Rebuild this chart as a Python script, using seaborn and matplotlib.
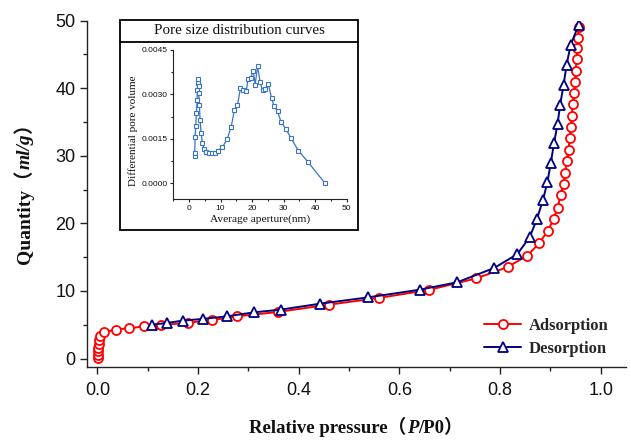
import matplotlib
matplotlib.use('Agg')
import matplotlib.pyplot as plt
import seaborn as sns
import pandas as pd
from matplotlib.patches import Rectangle
from matplotlib.lines import Line2D
from matplotlib.ticker import MultipleLocator

# ---------------- data ----------------
ads_p = [0.0005, 0.001, 0.0015, 0.002, 0.003, 0.004, 0.0055, 0.014, 0.037, 0.063,
         0.092, 0.127, 0.179, 0.228, 0.278, 0.359, 0.460, 0.559, 0.658, 0.752,
         0.815, 0.854, 0.878, 0.895, 0.906, 0.914, 0.920, 0.926, 0.929, 0.932,
         0.936, 0.938, 0.940, 0.942, 0.944, 0.947, 0.949, 0.950, 0.952, 0.953,
         0.955, 0.956]
ads_q = [0.1, 0.6, 1.1, 1.6, 2.2, 2.8, 3.3, 3.9, 4.3, 4.5,
         4.75, 4.95, 5.3, 5.7, 6.25, 6.9, 7.98, 8.97, 10.15, 11.85,
         13.55, 15.25, 17.1, 18.95, 20.6, 22.35, 24.15, 25.85, 27.5, 29.2,
         30.9, 32.6, 34.2, 35.9, 37.6, 39.3, 41.0, 42.6, 44.3, 45.9,
         47.5, 49.1]

des_p = [0.109, 0.138, 0.170, 0.210, 0.257, 0.312, 0.364, 0.443, 0.538, 0.641,
         0.715, 0.788, 0.834, 0.859, 0.873, 0.885, 0.894, 0.9006, 0.907, 0.914,
         0.919, 0.926, 0.932, 0.940, 0.956]
des_q = [5.02, 5.27, 5.62, 5.87, 6.25, 6.85, 7.24, 8.13, 9.06, 10.2,
         11.3, 13.4, 15.45, 18.0, 20.65, 23.45, 26.15, 28.95, 31.9, 34.7,
         37.5, 40.5, 43.5, 46.4, 49.4]

psd_d = [1.81, 1.81, 1.92, 2.13, 2.34, 2.55, 2.66, 2.76, 2.87, 3.08,
         3.08, 3.29, 3.50, 3.82, 4.25, 4.78, 5.52, 6.36, 7.21, 8.27,
         9.22, 10.6, 12.08, 13.35, 14.42, 15.37, 16.32, 17.17, 18.12, 18.76,
         19.6, 20.35, 20.98, 21.73, 22.57, 23.31, 24.16, 25.11, 26.17, 26.91,
         28.08, 29.24, 30.73, 32.42, 34.65, 37.61, 43.12]
psd_v = [0.000935, 0.001036, 0.001544, 0.001916, 0.002367, 0.002818, 0.003156, 0.003382, 0.003517, 0.003269,
         0.003044, 0.002649, 0.002141, 0.001690, 0.001352, 0.001149, 0.001070, 0.001014, 0.001014, 0.001014,
         0.001104, 0.001217, 0.001488, 0.001894, 0.002480, 0.002638, 0.003213, 0.003156, 0.003111, 0.003528,
         0.003551, 0.003799, 0.003325, 0.003945, 0.003404, 0.003134, 0.003179, 0.003359, 0.002874, 0.002615,
         0.002423, 0.002051, 0.001826, 0.001510, 0.001104, 0.000732, 0.0]

x_major = [0.0, 0.2, 0.4, 0.6, 0.8, 1.0]
y_major = [0, 10, 20, 30, 40, 50]
in_x_major = [0, 10, 20, 30, 40, 50]
in_y_major = [0.0, 0.0015, 0.0030, 0.0045]
in_y_labels = ['0.0000', '0.0015', '0.0030', '0.0045']

xlabel_parts = [('Relative pressure（', 'normal'), ('P', 'italic'), ('/P0）', 'normal')]
ylabel_parts = [('Quantity（', 'normal'), ('ml/g', 'italic'), ('）', 'normal')]

# ---------------- style ----------------
sns.set_theme(style='ticks')
plt.rcParams['font.family'] = ['Liberation Sans', 'DejaVu Sans']

SERIF = ['Liberation Serif', 'Noto Sans CJK SC', 'DejaVu Serif']
RED = '#ff0000'
NAVY = '#000080'
PBLUE = '#3a74c6'
DARK = '#222222'
W, H = 631, 442

fig = plt.figure(figsize=(6.31, 4.42), dpi=100)
ax = fig.add_axes([0.1384, 0.1704, 0.8537, 0.7828])

ads = pd.DataFrame({'p': ads_p, 'q': ads_q})
des = pd.DataFrame({'p': des_p, 'q': des_q})

sns.lineplot(data=ads, x='p', y='q', ax=ax, color=RED, lw=1.4, sort=False, estimator=None,
             marker='o', markersize=6.5, markerfacecolor='white', markeredgecolor=RED,
             markeredgewidth=1.3, label='Adsorption')
sns.lineplot(data=des, x='p', y='q', ax=ax, color=NAVY, lw=1.4, sort=False, estimator=None,
             marker='^', markersize=7.5, markerfacecolor='white', markeredgecolor=NAVY,
             markeredgewidth=1.3, label='Desorption')

ax.set_xlim(-0.02, 1.05)
ax.set_ylim(-1.2, 50)
ax.set_xticks(x_major)
ax.set_xticklabels([f'{v:.1f}' for v in x_major])
ax.set_yticks(y_major)
ax.xaxis.set_minor_locator(MultipleLocator(0.1))
ax.yaxis.set_minor_locator(MultipleLocator(5))
ax.tick_params(which='major', direction='out', length=5, width=1, color=DARK,
               labelsize=13, labelcolor='#111111')
ax.tick_params(axis='x', which='major', pad=6)
ax.tick_params(which='minor', direction='out', length=3, width=1, color=DARK)
for s in ['top', 'right']:
    ax.spines[s].set_visible(False)
for s in ['left', 'bottom']:
    ax.spines[s].set_color(DARK)
    ax.spines[s].set_linewidth(1.0)
ax.set_xlabel('')
ax.set_ylabel('')

ax.legend(loc='lower right', bbox_to_anchor=(0.995, -0.015), frameon=False,
          prop={'family': SERIF, 'weight': 'bold', 'size': 12},
          handlelength=2.2, handletextpad=0.45, labelspacing=0.4)


def chain_label(parts, cx, cy, rotation=0, size=13.5):
    """Place consecutive text pieces (mixed upright/italic) centred at pixel (cx, cy)."""
    texts = [fig.text(0, 0, s, family=SERIF, fontweight='bold', style=st, fontsize=size,
                      rotation=rotation, rotation_mode='anchor', ha='left', va='baseline',
                      color='#111111') for s, st in parts]
    fig.canvas.draw()
    r = fig.canvas.get_renderer()
    sizes = []
    for t in texts:
        t.set_rotation(0)
        sizes.append(t.get_window_extent(r).width)
        t.set_rotation(rotation)
    total = sum(sizes)
    pos = -total / 2
    for t, w in zip(texts, sizes):
        if rotation == 0:
            t.set_position(((cx + pos) / W, 1 - (cy + 5) / H))
        else:
            t.set_position(((cx + 5) / W, 1 - (cy - pos) / H))
        pos += w
    return texts


chain_label(xlabel_parts, 356, 428)
chain_label(ylabel_parts, 25, 189, rotation=90, size=14)

# ---------------- inset ----------------
box = Rectangle((120 / W, 1 - 230 / H), (358 - 120) / W, (230 - 20) / H,
                transform=fig.transFigure, fill=False, lw=1.3, ec='black', zorder=5)
fig.patches.append(box)
fig.lines.append(Line2D([120 / W, 358 / W], [1 - 41.7 / H, 1 - 41.7 / H],
                        transform=fig.transFigure, color='black', lw=1.3))
fig.text(239 / W, 1 - 31 / H, 'Pore size distribution curves', ha='center', va='center',
         family=SERIF, fontsize=10.8, color='#111111')

axin = fig.add_axes([0.2746, 0.5498, 0.2748, 0.3376])
axin.patch.set_alpha(0)
psd = pd.DataFrame({'d': psd_d, 'v': psd_v})
sns.lineplot(data=psd, x='d', y='v', ax=axin, color=PBLUE, lw=0.9, sort=False, estimator=None,
             marker='s', markersize=3, markerfacecolor='white', markeredgecolor=PBLUE,
             markeredgewidth=0.8)
axin.set_xlim(-5, 50)
axin.set_ylim(-0.00053, 0.0045)
axin.set_xticks(in_x_major)
axin.set_yticks(in_y_major)
axin.set_yticklabels(in_y_labels)
axin.xaxis.set_minor_locator(MultipleLocator(5))
axin.yaxis.set_minor_locator(MultipleLocator(0.00075))
axin.tick_params(which='major', direction='out', length=2.5, width=0.8, color=DARK,
                 labelsize=6, pad=1.5, labelcolor='#111111')
axin.tick_params(which='minor', direction='out', length=1.5, width=0.8, color=DARK)
for s in ['top', 'right']:
    axin.spines[s].set_visible(False)
for s in ['left', 'bottom']:
    axin.spines[s].set_color(DARK)
    axin.spines[s].set_linewidth(0.8)
axin.set_xlabel('Average aperture(nm)', family=SERIF, fontsize=8.2, color='#111111')
axin.set_ylabel('Differential pore volume', family=SERIF, fontsize=8, color='#111111')
axin.xaxis.set_label_coords(0.5, -0.105)
axin.yaxis.set_label_coords(-0.205, 0.46)

fig.savefig('out.png', dpi=100)
